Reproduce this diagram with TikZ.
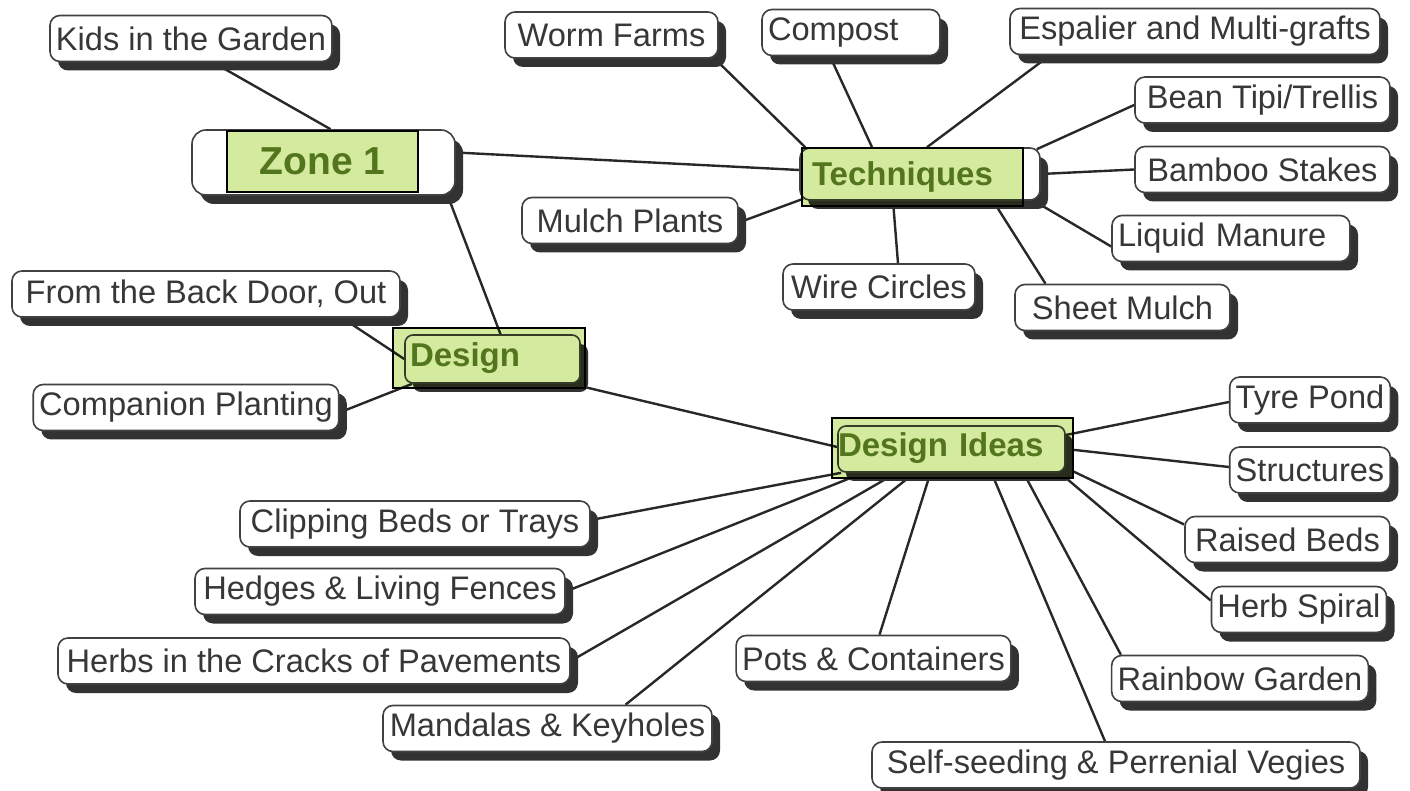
\documentclass[tikz,border=0pt]{standalone}
\usepackage{fontspec}
\setmainfont{Liberation Sans}
\usepackage{tikz}
\usetikzlibrary{
  backgrounds,
  calc,
  shadows,
}
\definecolor{boxline}{RGB}{65, 65, 65}
\definecolor{leaftext}{RGB}{55, 55, 55}
\definecolor{shadowgray}{RGB}{50, 50, 50}
\definecolor{linkgray}{RGB}{40, 40, 40}
\definecolor{limegreen}{RGB}{212, 234, 158}
\definecolor{olivetext}{RGB}{100, 128, 48}
\tikzstyle{leaf} = [
  rectangle,
  rounded corners=5pt,
  draw=boxline,
  line width=0.8pt,
  fill=white,
  minimum height=23pt,
  inner xsep=3pt,
  font=\fontsize{16.3}{19}\selectfont,
  text=leaftext,
  drop shadow={shadow xshift=4pt, shadow yshift=-4.5pt, fill=shadowgray, opacity=1},
]
\tikzstyle{hilite} = [
  rectangle,
  draw=black,
  line width=1pt,
  fill=limegreen,
  blend mode=multiply,
  align=left,
  font=\bfseries\fontsize{16.5}{20}\selectfont,
  text=olivetext,
]
\tikzstyle{link} = [
  line width=1.2pt,
  linkgray,
]

\begin{document}
\begin{tikzpicture}[x=0.5pt,y=-0.5pt]
			\useasboundingbox (0,0) rectangle (1410,791);

			\node[leaf,rounded corners=7pt,minimum width=131.5pt,minimum height=32.5pt] (zone1box) at (323.5,162.5) {};
			\node[leaf,minimum width=120pt,minimum height=26pt] (techbox) at (920,174) {};
			\node[leaf,rounded corners=4pt,minimum width=87.5pt,minimum height=24pt] (designbox) at (492.5,359) {};
			\node[leaf,rounded corners=4pt,minimum width=113.5pt,minimum height=23pt] (ideasbox) at (951.5,449) {};

			\node[hilite,align=center,minimum width=95.5pt,minimum height=30.5pt,font=\bfseries\fontsize{19.5}{23}\selectfont] (zone1) at (322.5,161.5) {Zone 1};
			\node[hilite,inner xsep=5pt,text width=100.5pt,minimum height=29pt] (tech) at (912.5,177) {Techniques};
			\node[hilite,inner xsep=8.5pt,text width=79pt,minimum height=30pt] (design) at (489,358) {Design};
			\node[hilite,inner xsep=3pt,text width=114.5pt,minimum height=30pt] (ideas) at (952.5,448) {Design Ideas};

			\node[leaf,minimum width=139pt] (kids) at (191,38.5) {Kids in the Garden};
			\node[leaf,minimum width=106.5pt] (worm) at (611.5,35) {Worm Farms};
			\node[leaf,text width=83pt,align=left] (compost) at (851,32.5) {Compost};
			\node[leaf,minimum width=185pt] (espalier) at (1195,31.5) {Espalier and Multi-grafts};
			\node[leaf,minimum width=127.5pt] (bean) at (1262.5,100) {Bean Tipi/Trellis};
			\node[leaf,minimum width=127.5pt] (bamboo) at (1262.5,169.5) {Bamboo Stakes};
			\node[leaf,text width=113pt,align=left] (liquid) at (1231,238.5) {Liquid Manure};
			\node[leaf,minimum width=107.5pt] (sheet) at (1122.5,307.5) {Sheet Mulch};
			\node[leaf,minimum width=96pt] (wire) at (879,287) {Wire Circles};
			\node[leaf,minimum width=108pt] (mulch) at (630,220.5) {Mulch Plants};

			\node[leaf,minimum width=194pt] (backdoor) at (206,294) {From the Back Door, Out};
			\node[leaf,minimum width=149pt] (companion) at (186,407.5) {Companion Planting};

			\node[leaf,minimum width=80pt] (tyre) at (1310,400) {Tyre Pond};
			\node[leaf,minimum width=80pt] (structures) at (1310,470) {Structures};
			\node[leaf,minimum width=102.5pt] (raised) at (1287.5,539.5) {Raised Beds};
			\node[leaf,minimum width=86pt] (spiral) at (1299,609.5) {Herb Spiral};
			\node[leaf,minimum width=125pt] (rainbow) at (1240,678.5) {Rainbow Garden};
			\node[leaf,minimum width=244pt] (selfseed) at (1116,765) {Self-seeding \& Perrenial Vegies};
			\node[leaf,minimum width=136.5pt] (pots) at (873.5,658.5) {Pots \& Containers};
			\node[leaf,minimum width=164.5pt] (mandalas) at (547.5,728.5) {Mandalas \& Keyholes};
			\node[leaf,minimum width=256pt] (cracks) at (314,661) {Herbs in the Cracks of Pavements};
			\node[leaf,minimum width=185pt] (hedges) at (380,591.5) {Hedges \& Living Fences};
			\node[leaf,minimum width=175pt] (clipping) at (415,524) {Clipping Beds or Trays};

			\begin{scope}[on background layer]
			\draw[link] ($(kids.south)+(22,0)$) -- ($(zone1box.north)+(7,0)$);
			\draw[link] ($(zone1box.east)+(0,-10)$) -- ($(techbox.west)+(0,-4)$);
			\draw[link] ($(zone1box.south east)+(-8,0)$) -- ($(designbox.north)+(8,0)$);

			\draw[link] ($(worm.south east)+(-4,0)$) -- ($(techbox.north west)+(6,0)$);
			\draw[link] ($(compost.south)+(-21,0)$) -- ($(techbox.north)+(-48,0)$);
			\draw[link] ($(espalier.south)+(-145,0)$) -- ($(techbox.north)+(7,0)$);
			\draw[link] ($(bean.west)+(0,5)$) -- ($(techbox.north east)+(-4,2)$);
			\draw[link] (bamboo.west) -- (techbox.east);
			\draw[link] ($(liquid.west)+(0,8)$) -- ($(techbox.south east)+(-7,0)$);
			\draw[link] ($(sheet.north)+(-77,0)$) -- ($(techbox.south)+(73,0)$);
			\draw[link] ($(wire.north)+(19,0)$) -- ($(techbox.south)+(-27,0)$);
			\draw[link] ($(mulch.east)+(0,2)$) -- ($(techbox.south west)+(4,-2)$);

			\draw[link] ($(backdoor.south)+(136,0)$) -- (designbox.west);
			\draw[link] ($(companion.east)+(0,5)$) -- ($(designbox.south west)+(8,0)$);
			\draw[link] ($(designbox.south east)+(-10,0)$) -- ($(ideasbox.west)+(0,-2)$);

			\draw[link] ($(tyre.west)+(0,2)$) -- ($(ideasbox.east)+(0,-14)$);
			\draw[link] ($(structures.west)+(0,-3)$) -- (ideasbox.east);
			\draw[link] ($(raised.west)+(0,-15)$) -- ($(ideasbox.south east)+(0,-5)$);
			\draw[link] ($(spiral.west)+(0,-9)$) -- ($(ideasbox.south east)+(-6,0)$);
			\draw[link] ($(rainbow.north west)+(10,0)$) -- ($(ideasbox.south)+(72,0)$);
			\draw[link] ($(selfseed.north)+(-11,0)$) -- ($(ideasbox.south)+(40,0)$);
			\draw[link] ($(pots.north)+(6,0)$) -- ($(ideasbox.south)+(-21,0)$);
			\draw[link] ($(mandalas.north)+(78,0)$) -- ($(ideasbox.south)+(-37,0)$);
			\draw[link] (cracks.east) -- ($(ideasbox.south)+(-55,0)$);
			\draw[link] (hedges.east) -- ($(ideasbox.south)+(-88,0)$);
			\draw[link] ($(clipping.east)+(0,-4)$) -- ($(ideasbox.south west)+(4,0)$);
			\end{scope}
\end{tikzpicture}
\end{document}
